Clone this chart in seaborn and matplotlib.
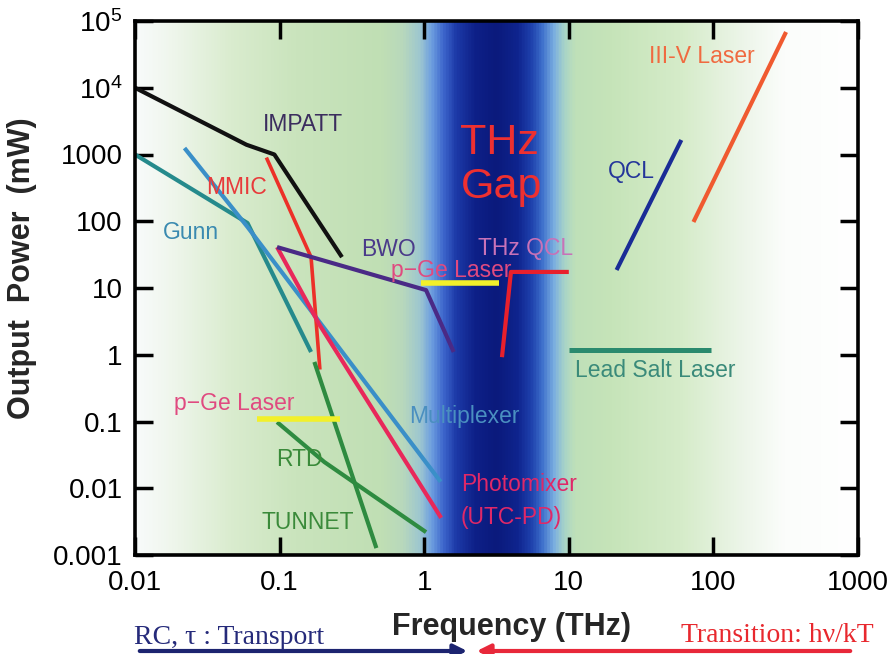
import numpy as np
import pandas as pd
import matplotlib
matplotlib.use("Agg")
import matplotlib.pyplot as plt
import seaborn as sns
from matplotlib.colors import LinearSegmentedColormap
from matplotlib.ticker import FixedLocator, FixedFormatter, NullLocator

# ---------------- data (frequency in THz, power in mW) ----------------
impatt_f = [0.01, 0.059, 0.092, 0.27]
impatt_p = [10000, 1400, 1000, 29]
gunn_f = [0.01, 0.06, 0.165]
gunn_p = [1000, 94, 1.1]
mult_f = [0.022, 0.06, 1.3]
mult_p = [1250, 82, 0.0125]
mmic_f = [0.081, 0.165, 0.19]
mmic_p = [900, 29, 0.6]
photomixer_f = [0.096, 0.189, 1.31]
photomixer_p = [41, 2.8, 0.0036]
bwo_f = [0.096, 1.03, 1.6]
bwo_p = [41, 9.3, 1.1]
pge_hi_f = [0.95, 3.3]
pge_hi_p = [12, 12]
pge_lo_f = [0.07, 0.26]
pge_lo_p = [0.11, 0.11]
rtd_f = [0.096, 0.204, 1.03]
rtd_p = [0.098, 0.0247, 0.0022]
tunnet_f = [0.174, 0.467]
tunnet_p = [0.78, 0.00127]
thzqcl_f = [3.45, 3.98, 10.0]
thzqcl_p = [0.92, 17.4, 17.4]
qcl_f = [21.4, 60]
qcl_p = [18.6, 1650]
iiiv_f = [72.8, 318]
iiiv_p = [97.5, 68400]
leadsalt_f = [10, 97]
leadsalt_p = [1.18, 1.18]

x_ticks = [0.01, 0.1, 1, 10, 100, 1000]
x_ticklabels = ["0.01", "0.1", "1", "10", "100", "1000"]
y_ticks = [0.001, 0.01, 0.1, 1, 10, 100, 1000, 1e4, 1e5]
y_ticklabels = ["0.001", "0.01", "0.1", "1", "10", "100", "1000", "$10^{4}$", "$10^{5}$"]

# ---------------- style ----------------
sns.set_style("ticks")
plt.rcParams['font.family'] = ['Liberation Sans', 'DejaVu Sans']
plt.rcParams['mathtext.fontset'] = 'custom'
plt.rcParams['mathtext.rm'] = 'Liberation Sans'
plt.rcParams['mathtext.it'] = 'Liberation Sans:italic'
plt.rcParams['mathtext.bf'] = 'Liberation Sans:bold'

W, H = 894, 654
fig = plt.figure(figsize=(W / 100, H / 100), dpi=100)
fig.patch.set_facecolor("white")
pos = [135 / W, 1 - 555 / H, (858 - 135) / W, (555 - 21) / H]

# background gradient (in log-frequency, expressed as axes fraction)
stops = [(-2.0, "#f8fbfb"), (-1.75, "#eff6ec"), (-1.35, "#daeccf"), (-0.9, "#cae4bd"),
         (-0.3, "#c0dfb4"), (-0.15, "#b8d8bc"), (-0.03, "#9cc6d0"), (0.05, "#6e9fe0"),
         (0.13, "#3d66cc"), (0.22, "#1d3aa8"), (0.35, "#0e2088"), (0.5, "#0b1a7c"),
         (0.65, "#0f248e"), (0.74, "#1e40ac"), (0.82, "#3e70cc"), (0.9, "#7aaee0"),
         (0.97, "#a8d4c8"), (1.05, "#bfe0b8"), (1.3, "#c6e4b9"), (1.8, "#d6ecca"),
         (2.2, "#ecf5e8"), (2.5, "#fbfdfb"), (3.0, "#ffffff")]
cmap = LinearSegmentedColormap.from_list(
    "thz", [((v + 2) / 5, c) for v, c in stops])
bg = fig.add_axes(pos, zorder=0)
grad = np.linspace(0, 1, 1000)[None, :]
bg.imshow(grad, cmap=cmap, aspect="auto", extent=[0, 1, 0, 1], interpolation="bilinear")
bg.set_axis_off()

ax = fig.add_axes(pos, zorder=1)
ax.patch.set_alpha(0)
ax.set_xscale("log")
ax.set_yscale("log")

series = [
    ("IMPATT", impatt_f, impatt_p, "#111111", 3.0),
    ("Gunn", gunn_f, gunn_p, "#258a8c", 3.0),
    ("Multiplexer", mult_f, mult_p, "#3a8fc8", 3.0),
    ("MMIC", mmic_f, mmic_p, "#ec3028", 2.6),
    ("Photomixer", photomixer_f, photomixer_p, "#e8285a", 3.0),
    ("BWO", bwo_f, bwo_p, "#4a2a86", 3.0),
    ("RTD", rtd_f, rtd_p, "#2e8b40", 3.0),
    ("TUNNET", tunnet_f, tunnet_p, "#2e8b40", 3.0),
    ("p-Ge Laser hi", pge_hi_f, pge_hi_p, "#f2f02a", 4.0),
    ("p-Ge Laser lo", pge_lo_f, pge_lo_p, "#f2f02a", 4.0),
    ("THz QCL", thzqcl_f, thzqcl_p, "#e8202c", 3.0),
    ("QCL", qcl_f, qcl_p, "#1a2c96", 3.0),
    ("III-V Laser", iiiv_f, iiiv_p, "#f05a30", 3.0),
    ("Lead Salt Laser", leadsalt_f, leadsalt_p, "#2a8a6e", 3.6),
]
for name, f, p, col, lw in series:
    df = pd.DataFrame({"freq": f, "power": p})
    sns.lineplot(data=df, x="freq", y="power", sort=False, estimator=None,
                 color=col, linewidth=lw, ax=ax, solid_capstyle="butt")

ax.set_xlim(0.01, 1000)
ax.set_ylim(0.001, 1e5)
ax.set_xlabel("")
ax.set_ylabel("")

ax.xaxis.set_major_locator(FixedLocator(x_ticks))
ax.xaxis.set_major_formatter(FixedFormatter(x_ticklabels))
ax.yaxis.set_major_locator(FixedLocator(y_ticks))
ax.yaxis.set_major_formatter(FixedFormatter(y_ticklabels))
ax.xaxis.set_minor_locator(NullLocator())
ax.yaxis.set_minor_locator(NullLocator())
ax.tick_params(which="major", direction="in", length=13, width=2.5,
               top=True, right=True, labelsize=20, colors="black")
ax.tick_params(axis="x", pad=11)
ax.tick_params(axis="y", pad=9)
for s in ax.spines.values():
    s.set_linewidth(2.6)
    s.set_color("black")

# ---------------- labels inside the plot ----------------
fs = 16.5
labels = [
    ("IMPATT", 0.144, 2770, "#3b2d5e", "center"),
    ("MMIC", 0.0505, 315, "#e83a3a", "center"),
    ("Gunn", 0.0243, 66.7, "#3a8ab0", "center"),
    ("BWO", 0.565, 38, "#4a3a8a", "center"),
    ("p\u2212Ge Laser", 1.53, 18.3, "#e04a80", "center"),
    ("THz QCL", 5.05, 39.7, "#c872b8", "center"),
    ("QCL", 27.2, 547, "#24359a", "center"),
    ("III-V Laser", 82.6, 28900, "#f06a40", "center"),
    ("Lead Salt Laser", 39.8, 0.59, "#3a8a7a", "center"),
    ("Multiplexer", 1.89, 0.117, "#4a8fc0", "center"),
    ("Photomixer", 1.8, 0.0112, "#e02868", "left"),
    ("(UTC-PD)", 1.8, 0.0037, "#e02868", "left"),
    ("p\u2212Ge Laser", 0.0482, 0.189, "#e04a80", "center"),
    ("RTD", 0.1374, 0.0265, "#3a8a3a", "center"),
    ("TUNNET", 0.156, 0.00312, "#3a8a3a", "center"),
]
for txt, x, y, col, ha in labels:
    ax.text(x, y, txt, color=col, fontsize=fs, ha=ha, va="center", zorder=5)

ax.text(3.34, 1486, "THz", color="#ee3030", fontsize=31, ha="center", va="center", zorder=5)
ax.text(3.45, 326, "Gap", color="#ee3030", fontsize=31, ha="center", va="center", zorder=5)

# ---------------- axis titles & bottom annotations ----------------
fig.text(22 / W, 1 - 268 / H, "Output  Power  (mW)", rotation=90, fontsize=22,
         fontweight="bold", ha="center", va="center")
fig.text(512 / W, 1 - 627 / H, "Frequency (THz)", fontsize=22, fontweight="bold",
         ha="center", va="center")
fig.text(229 / W, 1 - 637 / H, "RC, \u03c4 : Transport", fontsize=20,
         family=["Liberation Serif", "DejaVu Serif"], color="#252a7a",
         ha="center", va="center")
fig.text(777 / W, 1 - 635 / H, "Transition: h\u03bd/kT", fontsize=20,
         family=["Liberation Serif", "DejaVu Serif"], color="#e8282e",
         ha="center", va="center")

ay = 1 - 651 / H
fig.add_artist(matplotlib.patches.FancyArrowPatch(
    (137 / W, ay), (470 / W, ay), transform=fig.transFigure,
    arrowstyle="-|>,head_length=8,head_width=4", color="#1c2470", lw=3))
fig.add_artist(matplotlib.patches.FancyArrowPatch(
    (853 / W, ay), (474 / W, ay), transform=fig.transFigure,
    arrowstyle="-|>,head_length=8,head_width=4", color="#e8283a", lw=3))

fig.savefig("out.png", dpi=100)
